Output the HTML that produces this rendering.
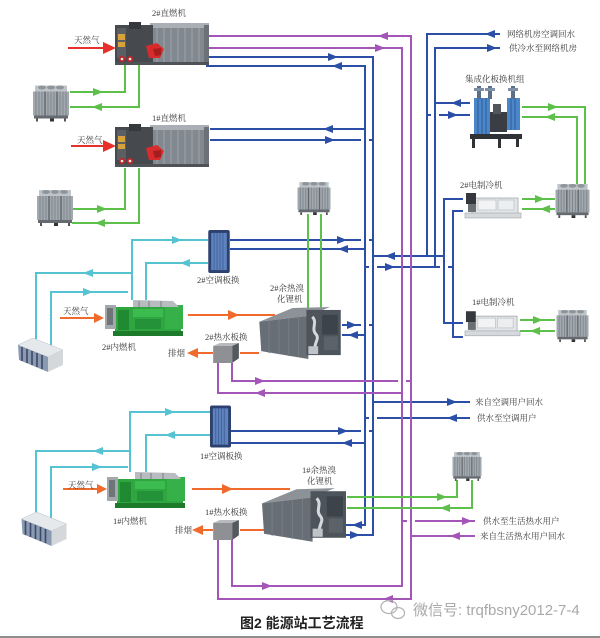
<!DOCTYPE html>
<html><head><meta charset="utf-8">
<style>
html,body{margin:0;padding:0;background:#fff;}
svg{display:block;}
.t{font-family:"Liberation Serif","Noto Serif CJK SC",serif;font-size:8.5px;fill:#3a3a3a;dominant-baseline:central;}
</style></head><body>
<svg width="600" height="638" viewBox="0 0 600 638" xmlns="http://www.w3.org/2000/svg">
<defs>
<symbol id="tower" viewBox="0 0 36 36">
<rect x="2" y="0" width="32" height="6" fill="#bfc4c8"/>
<ellipse cx="9" cy="2" rx="4" ry="2" fill="#8e959b"/>
<ellipse cx="18" cy="2" rx="4" ry="2" fill="#8e959b"/>
<ellipse cx="27" cy="2" rx="4" ry="2" fill="#8e959b"/>
<rect x="0" y="6" width="36" height="24" fill="#a1a8ae"/>
<g stroke="#7b838a" stroke-width="0.9">
<line x1="3" y1="6" x2="3" y2="30"/><line x1="6" y1="6" x2="6" y2="30"/><line x1="9" y1="6" x2="9" y2="30"/>
<line x1="15" y1="6" x2="15" y2="30"/><line x1="18" y1="6" x2="18" y2="30"/><line x1="21" y1="6" x2="21" y2="30"/>
<line x1="27" y1="6" x2="27" y2="30"/><line x1="30" y1="6" x2="30" y2="30"/><line x1="33" y1="6" x2="33" y2="30"/>
</g>
<line x1="12" y1="6" x2="12" y2="30" stroke="#5f666c" stroke-width="1.4"/>
<line x1="24" y1="6" x2="24" y2="30" stroke="#5f666c" stroke-width="1.4"/>
<rect x="1" y="30" width="34" height="3" fill="#646a70"/>
<rect x="3" y="33" width="2" height="3" fill="#555"/><rect x="17" y="33" width="4" height="3" fill="#333"/><rect x="31" y="33" width="2" height="3" fill="#555"/>
</symbol>
<symbol id="zr" viewBox="0 0 94 44">
<rect x="35" y="1" width="59" height="39" fill="#82888f"/>
<rect x="35" y="1" width="59" height="5" fill="#a9afb5"/>
<g stroke="#9aa0a6" stroke-width="1.2">
<line x1="42" y1="6" x2="42" y2="40"/><line x1="49" y1="6" x2="49" y2="40"/><line x1="56" y1="6" x2="56" y2="40"/><line x1="63" y1="6" x2="63" y2="40"/><line x1="70" y1="6" x2="70" y2="40"/><line x1="77" y1="6" x2="77" y2="40"/><line x1="84" y1="6" x2="84" y2="40"/>
</g>
<rect x="89" y="3" width="5" height="37" fill="#6b7177"/>
<rect x="0" y="3" width="38" height="37" fill="#46494e"/>
<rect x="2" y="6" width="9" height="30" fill="#5b5f64"/>
<rect x="14" y="0" width="12" height="7" fill="#35383c"/>
<rect x="3" y="12" width="7" height="6" fill="#d6a23c"/>
<rect x="3" y="20" width="7" height="5" fill="#d6a23c"/>
<polygon points="31,24 42,21 49,27 45,36 34,36" fill="#d92b2b"/>
<polygon points="38,27 46,26 46,33 40,34" fill="#a51d1d"/>
<circle cx="7" cy="37" r="3.2" fill="#b9282a"/><circle cx="15" cy="37" r="3.2" fill="#b9282a"/>
<circle cx="7" cy="37" r="1.3" fill="#e9e9e9"/><circle cx="15" cy="37" r="1.3" fill="#e9e9e9"/>
<rect x="0" y="40" width="94" height="3" fill="#4f5358"/>
</symbol>
<symbol id="gen" viewBox="0 0 82 40">
<rect x="10" y="10" width="66" height="25" fill="#2fa640"/>
<rect x="13" y="13" width="11" height="20" fill="#1f8a32"/>
<rect x="28" y="12" width="30" height="8" fill="#3cbb4e"/>
<rect x="30" y="22" width="26" height="10" fill="#249238"/>
<rect x="60" y="8" width="18" height="24" fill="#36b14a"/>
<polygon points="28,3 68,4 74,10 28,10" fill="#b8bcc0"/>
<line x1="34" y1="4" x2="34" y2="10" stroke="#7d8185"/><line x1="44" y1="4" x2="44" y2="10" stroke="#7d8185"/><line x1="56" y1="4" x2="56" y2="10" stroke="#7d8185"/>
<rect x="0" y="8" width="11" height="24" fill="#a3a8ac"/>
<rect x="2" y="11" width="6" height="17" fill="#6f7478"/>
<rect x="8" y="34" width="70" height="5" fill="#1d7a2b"/>
</symbol>
<symbol id="yr" viewBox="0 0 84 54">
<polygon points="0,15 34,1 72,0 50,9" fill="#8c9298"/>
<polygon points="0,15 50,9 50,53 2,45" fill="#686e75"/>
<g stroke="#777d84" stroke-width="1">
<line x1="10" y1="14" x2="10" y2="47"/><line x1="20" y1="13" x2="20" y2="48"/><line x1="30" y1="12" x2="30" y2="50"/><line x1="40" y1="10" x2="40" y2="51"/>
</g>
<rect x="48" y="3" width="35" height="46" fill="#4d545c"/>
<rect x="64" y="8" width="16" height="20" fill="#3d434a"/>
<rect x="66" y="30" width="14" height="14" fill="#5b626a"/>
<path d="M54,10 C60,16 52,22 58,28 C62,33 54,38 58,44" stroke="#d4d8dc" stroke-width="3" fill="none"/>
<rect x="50" y="40" width="10" height="8" fill="#bfc4c8"/>
</symbol>
<symbol id="rs" viewBox="0 0 28 21">
<polygon points="0,3 7,0 27,0 20,3" fill="#b8bbbe"/>
<rect x="0" y="3" width="20" height="18" fill="#8e9093"/>
<polygon points="20,3 27,0 27,16 20,21" fill="#54595d"/>
</symbol>
<symbol id="hx" viewBox="0 0 22 44">
<rect x="0" y="0" width="22" height="44" rx="2" fill="#2d4170"/>
<rect x="3" y="3" width="16" height="38" fill="#5f84bd"/>
<g stroke="#41639c" stroke-width="1"><line x1="6" y1="3" x2="6" y2="41"/><line x1="9" y1="3" x2="9" y2="41"/><line x1="12" y1="3" x2="12" y2="41"/><line x1="15" y1="3" x2="15" y2="41"/></g>
</symbol>
<symbol id="ch" viewBox="0 0 58 27">
<rect x="8" y="5" width="46" height="16" fill="#e3e6e8" stroke="#a3a8ad" stroke-width="0.8"/>
<rect x="14" y="7" width="18" height="10" fill="#f2f3f4" stroke="#b5b9bd" stroke-width="0.6"/>
<rect x="34" y="7" width="16" height="10" fill="#eceef0" stroke="#b5b9bd" stroke-width="0.6"/>
<rect x="2" y="0" width="10" height="11" fill="#35393e"/>
<rect x="4" y="11" width="8" height="8" fill="#6a6f74"/>
<rect x="1" y="20" width="56" height="5" fill="#d6d9dc" stroke="#9fa4a9" stroke-width="0.6"/>
</symbol>
<symbol id="ac" viewBox="0 0 46 35">
<polygon points="0,7 15,0 45,12 30,19" fill="#e6e9eb" stroke="#b8bdc2" stroke-width="0.5"/>
<polygon points="0,7 30,19 30,34 1,22" fill="#8a9ab2"/>
<g stroke="#3c4865" stroke-width="1.6">
<line x1="4" y1="9" x2="4" y2="23"/><line x1="9" y1="11" x2="9" y2="25"/><line x1="14" y1="13" x2="14" y2="27"/><line x1="19" y1="15" x2="19" y2="29"/><line x1="24" y1="17" x2="24" y2="31"/>
</g>
<polygon points="30,19 45,12 45,27 30,34" fill="#d4d8db"/>
</symbol>
</defs>

<!-- BLUE lines -->
<g fill="none" stroke="#2b4ea6" stroke-width="2">
<path d="M206,57 H373 V535 H345"/>
<path d="M206,66 H365 V525 H345"/>
<path d="M210,129 H365"/>
<path d="M210,140 H361 M369,140 H373"/>
<path d="M500,34 H427 V256"/>
<path d="M500,48 H435 V267"/>
<path d="M435,103 H470"/>
<path d="M427,115 H431 M439,115 H470"/>
<path d="M463,199 H444 V323 H463"/>
<path d="M463,211 H453 V337 H463"/>
<path d="M373,256 H444"/>
<path d="M365,267 H369 M377,267 H440 M448,267 H453"/>
<path d="M230,240 H361 M369,240 H373"/>
<path d="M230,249 H365"/>
<path d="M342,325 H361 M369,325 H373"/>
<path d="M342,335 H365"/>
<path d="M373,402 H470"/>
<path d="M365,418 H369 M377,418 H470"/>
<path d="M230,431 H361 M369,431 H373"/>
<path d="M230,443 H365"/>
</g>
<!-- PURPLE lines -->
<g fill="none" stroke="#a355b8" stroke-width="2">
<path d="M208,36 H411 V599 H218 V539"/>
<path d="M208,48 H402 V586 H232 V539"/>
<path d="M232,363 V381 H398 M406,381 H411"/>
<path d="M218,363 V393 H402"/>
<path d="M402,521 H407 M415,521 H475"/>
<path d="M411,536 H475"/>
</g>
<!-- GREEN lines -->
<g fill="none" stroke="#5cc04a" stroke-width="2">
<path d="M125,65 V92 H70"/>
<path d="M139,65 V107 H70"/>
<path d="M125,168 V209 H72"/>
<path d="M139,168 V223 H72"/>
<path d="M522,107 H585 V186"/>
<path d="M522,117 H577 V186"/>
<path d="M522,199 H555"/>
<path d="M522,209 H555"/>
<path d="M520,320 H555"/>
<path d="M520,331 H555"/>
<path d="M308,214 V309"/>
<path d="M321,214 V309"/>
<path d="M347,497 H457 V480"/>
<path d="M347,508 H472 V480"/>
</g>
<!-- CYAN lines -->
<g fill="none" stroke="#55c3d2" stroke-width="2">
<path d="M208,240 H132 V300"/>
<path d="M208,263 H146 V300"/>
<path d="M132,273 H36 V344"/>
<path d="M128,292 H51 V347"/>
<path d="M210,412 H130 V472"/>
<path d="M210,435 H146 V472"/>
<path d="M130,451 H36 V517"/>
<path d="M128,467 H51 V520"/>
</g>
<!-- ORANGE / RED lines -->
<g fill="none" stroke="#f06a2c" stroke-width="2">
<path d="M60,318 H96"/>
<path d="M188,315 H275"/>
<path d="M259,353 H240"/>
<path d="M213,353 H196"/>
<path d="M63,489 H99"/>
<path d="M192,489 H290"/>
<path d="M265,530 H240"/>
<path d="M213,530 H201"/>
</g>
<g fill="none" stroke="#e8302a" stroke-width="2">
<path d="M68,48 H105"/>
<path d="M71,146 H105"/>
</g>

<!-- arrows -->
<g fill="#2b4ea6">
<polygon points="328,53 338,57 328,61"/><polygon points="342,62 332,66 342,70"/>
<polygon points="333,125 323,129 333,133"/><polygon points="325,136 335,140 325,144"/>
<polygon points="495,30 485,34 495,38"/><polygon points="487,44 497,48 487,52"/>
<polygon points="461,99 451,103 461,107"/><polygon points="448,111 458,115 448,119"/>
<polygon points="395,252 385,256 395,260"/><polygon points="385,263 395,267 385,271"/>
<polygon points="337,236 347,240 337,244"/><polygon points="348,245 338,249 348,253"/>
<polygon points="347,321 357,325 347,329"/><polygon points="358,331 348,335 358,339"/>
<polygon points="447,398 457,402 447,406"/><polygon points="457,414 447,418 457,422"/>
<polygon points="338,427 348,431 338,435"/><polygon points="352,439 342,443 352,447"/>
<polygon points="362,521 352,525 362,529"/><polygon points="350,531 360,535 350,539"/>
</g>
<g fill="#a355b8">
<polygon points="388,32 378,36 388,40"/><polygon points="375,44 385,48 375,52"/>
<polygon points="255,377 265,381 255,385"/><polygon points="265,389 255,393 265,397"/>
<polygon points="462,517 472,521 462,525"/><polygon points="460,532 450,536 460,540"/>
<polygon points="262,582 272,586 262,590"/><polygon points="393,595 383,599 393,603"/>
</g>
<g fill="#5cc04a">
<polygon points="93,88 103,92 93,96"/><polygon points="102,103 92,107 102,111"/>
<polygon points="97,205 107,209 97,213"/><polygon points="105,219 95,223 105,227"/>
<polygon points="548,103 558,107 548,111"/><polygon points="555,113 545,117 555,121"/>
<polygon points="535,195 545,199 535,203"/><polygon points="550,205 540,209 550,213"/>
<polygon points="533,316 543,320 533,324"/><polygon points="540,327 530,331 540,335"/>
<polygon points="437,493 447,497 437,501"/><polygon points="450,504 440,508 450,512"/>
</g>
<g fill="#55c3d2">
<polygon points="172,236 182,240 172,244"/><polygon points="190,259 180,263 190,267"/>
<polygon points="93,269 83,273 93,277"/><polygon points="83,288 93,292 83,296"/>
<polygon points="165,408 175,412 165,416"/><polygon points="175,431 165,435 175,439"/>
<polygon points="103,447 93,451 103,455"/><polygon points="92,463 102,467 92,471"/>
</g>
<g fill="#f06a2c">
<polygon points="94,313 104,318 94,323"/><polygon points="228,310 239,315 228,320"/>
<polygon points="198,348 187,353 198,358"/>
<polygon points="97,484 107,489 97,494"/><polygon points="222,484 233,489 222,494"/>
<polygon points="203,525 192,530 203,535"/>
</g>
<g fill="#e8302a">
<polygon points="103,42 116,48 103,54"/><polygon points="103,140 116,146 103,152"/>
</g>

<!-- equipment -->
<use href="#zr" x="115" y="22" width="94" height="44"/>
<use href="#zr" x="115" y="124" width="94" height="44"/>
<use href="#tower" x="33" y="85" width="36" height="37"/>
<use href="#tower" x="37" y="189" width="36" height="38"/>
<use href="#tower" x="296" y="182" width="36" height="33"/>
<use href="#tower" x="555" y="184" width="35" height="34"/>
<use href="#tower" x="555" y="310" width="35" height="32"/>
<use href="#tower" x="450" y="452" width="34" height="29"/>
<use href="#hx" x="208" y="230" width="22" height="43"/>
<use href="#hx" x="210" y="405" width="21" height="43"/>
<use href="#gen" x="105" y="297" width="82" height="40"/>
<use href="#gen" x="107" y="469" width="82" height="40"/>
<use href="#ac" x="18" y="338" width="46" height="35"/>
<use href="#ac" x="21" y="512" width="47" height="35"/>
<use href="#yr" x="259" y="307" width="83" height="53"/>
<use href="#yr" x="262" y="488" width="85" height="55"/>
<use href="#rs" x="213" y="343" width="27" height="20"/>
<use href="#rs" x="213" y="520" width="27" height="20"/>
<use href="#ch" x="464" y="193" width="58" height="27"/>
<use href="#ch" x="464" y="311" width="57" height="27"/>

<!-- integrated plate HX unit -->
<g>
<rect x="470" y="134" width="52" height="5" fill="#2f3236"/>
<rect x="472" y="139" width="3" height="9" fill="#2f3236"/><rect x="498" y="139" width="3" height="9" fill="#2f3236"/><rect x="516" y="139" width="3" height="8" fill="#2f3236"/>
<rect x="474" y="98" width="16" height="36" fill="#4a86c8"/>
<g stroke="#2f5f9a" stroke-width="1"><line x1="478" y1="98" x2="478" y2="134"/><line x1="482" y1="98" x2="482" y2="134"/><line x1="486" y1="98" x2="486" y2="134"/></g>
<rect x="507" y="98" width="13" height="32" fill="#4a86c8"/>
<g stroke="#2f5f9a" stroke-width="1"><line x1="511" y1="98" x2="511" y2="130"/><line x1="515" y1="98" x2="515" y2="130"/></g>
<rect x="490" y="112" width="17" height="20" fill="#3a3e44"/>
<rect x="493" y="104" width="8" height="10" fill="#50565c"/>
<rect x="477" y="86" width="4" height="13" fill="#5b7088"/><rect x="488" y="86" width="4" height="13" fill="#5b7088"/><rect x="511" y="86" width="4" height="13" fill="#5b7088"/>
<rect x="474" y="88" width="10" height="3" fill="#7d90a6"/><rect x="485" y="88" width="10" height="3" fill="#7d90a6"/><rect x="508" y="88" width="10" height="3" fill="#7d90a6"/>
</g>

<!-- labels -->
<g class="t">
<text class="t" x="152" y="13">2#直燃机</text>
<text class="t" x="74" y="40">天然气</text>
<text class="t" x="152" y="118">1#直燃机</text>
<text class="t" x="77" y="140">天然气</text>
<text class="t" x="507" y="34">网络机房空调回水</text>
<text class="t" x="509" y="48">供冷水至网络机房</text>
<text class="t" x="465" y="79">集成化板换机组</text>
<text class="t" x="460" y="185">2#电制冷机</text>
<text class="t" x="472" y="302">1#电制冷机</text>
<text class="t" x="197" y="280">2#空调板换</text>
<text class="t" x="270" y="288">2#余热溴</text>
<text class="t" x="277" y="299">化锂机</text>
<text class="t" x="63" y="311">天然气</text>
<text class="t" x="102" y="347">2#内燃机</text>
<text class="t" x="205" y="337">2#热水板换</text>
<text class="t" x="168" y="353">排烟</text>
<text class="t" x="200" y="456">1#空调板换</text>
<text class="t" x="68" y="485">天然气</text>
<text class="t" x="113" y="521">1#内燃机</text>
<text class="t" x="205" y="512">1#热水板换</text>
<text class="t" x="175" y="530">排烟</text>
<text class="t" x="302" y="470">1#余热溴</text>
<text class="t" x="307" y="481">化锂机</text>
<text class="t" x="475" y="402">来自空调用户回水</text>
<text class="t" x="477" y="418">供水至空调用户</text>
<text class="t" x="483" y="521">供水至生活热水用户</text>
<text class="t" x="480" y="536">来自生活热水用户回水</text>
</g>

<!-- watermark -->
<g fill="none" stroke="#b5b5b5" stroke-width="1.3">
<ellipse cx="389" cy="607" rx="8" ry="6.5"/>
<ellipse cx="398" cy="613" rx="6.5" ry="5.5"/>
</g>
<text x="413" y="615" fill="#a9a9a9" style="font-family:'Liberation Sans','Noto Sans CJK SC',sans-serif;font-size:15px;">微信号: trqfbsny2012-7-4</text>

<!-- caption -->
<text x="240" y="628" fill="#222" style="font-family:'Liberation Sans','Noto Sans CJK SC',sans-serif;font-size:14px;font-weight:bold;">图2 能源站工艺流程</text>
<rect x="0" y="636" width="600" height="2" fill="#8e8e8e"/>
</svg>
</body></html>
